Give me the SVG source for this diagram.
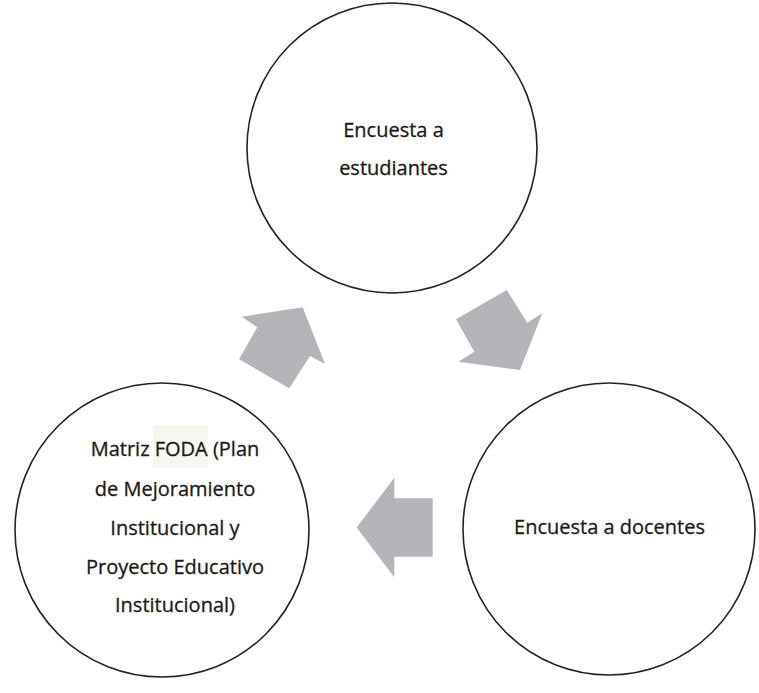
<svg xmlns="http://www.w3.org/2000/svg" width="759" height="693" viewBox="0 0 759 693">
  <style>
    .node circle { fill: #ffffff; stroke: #222222; stroke-width: 1.6; }
    .lbl { font-family: "Open Sans", "Noto Sans", "DejaVu Sans", sans-serif; font-size: 20px; fill: #1a1a1a; stroke: #1a1a1a; stroke-width: 0.3; text-anchor: middle; }
    .arrow { fill: #b5b5b9; stroke: none; }
  </style>
  <rect width="759" height="693" fill="#ffffff"/>
  <g id="node-estudiantes" class="node">
    <circle cx="392" cy="148" r="145"/>
    <text class="lbl" x="393.5" y="137">Encuesta a</text>
    <text class="lbl" x="393.5" y="175">estudiantes</text>
  </g>
  <g id="node-docentes" class="node">
    <circle cx="609" cy="529" r="146"/>
    <text class="lbl" x="609.5" y="534">Encuesta a docentes</text>
  </g>
  <g id="node-foda" class="node">
    <circle cx="162" cy="530" r="147"/>
    <rect x="153" y="425" width="55" height="43" fill="#f6f7ee"/>
    <text class="lbl" x="175" y="456">Matriz FODA (Plan</text>
    <text class="lbl" x="175" y="495.5">de Mejoramiento</text>
    <text class="lbl" x="175" y="535">Institucional y</text>
    <text class="lbl" x="175" y="573.5">Proyecto Educativo</text>
    <text class="lbl" x="175" y="612">Institucional)</text>
  </g>
  <g id="connectors">
    <polygon class="arrow" points="506.7,290 527.3,322.7 542.3,313.3 520,370 458.3,361.7 474.3,351.7 456,319.3"/>
    <polygon class="arrow" points="432.7,498.3 432.7,556.7 394.3,556.7 394.3,577.3 356.7,527.5 394.3,477.7 394.3,498.3"/>
    <polygon class="arrow" points="302.7,307.3 325,364 310,356 289.3,388.3 239,359.3 257.3,327.3 241.7,316.7"/>
  </g>
</svg>
